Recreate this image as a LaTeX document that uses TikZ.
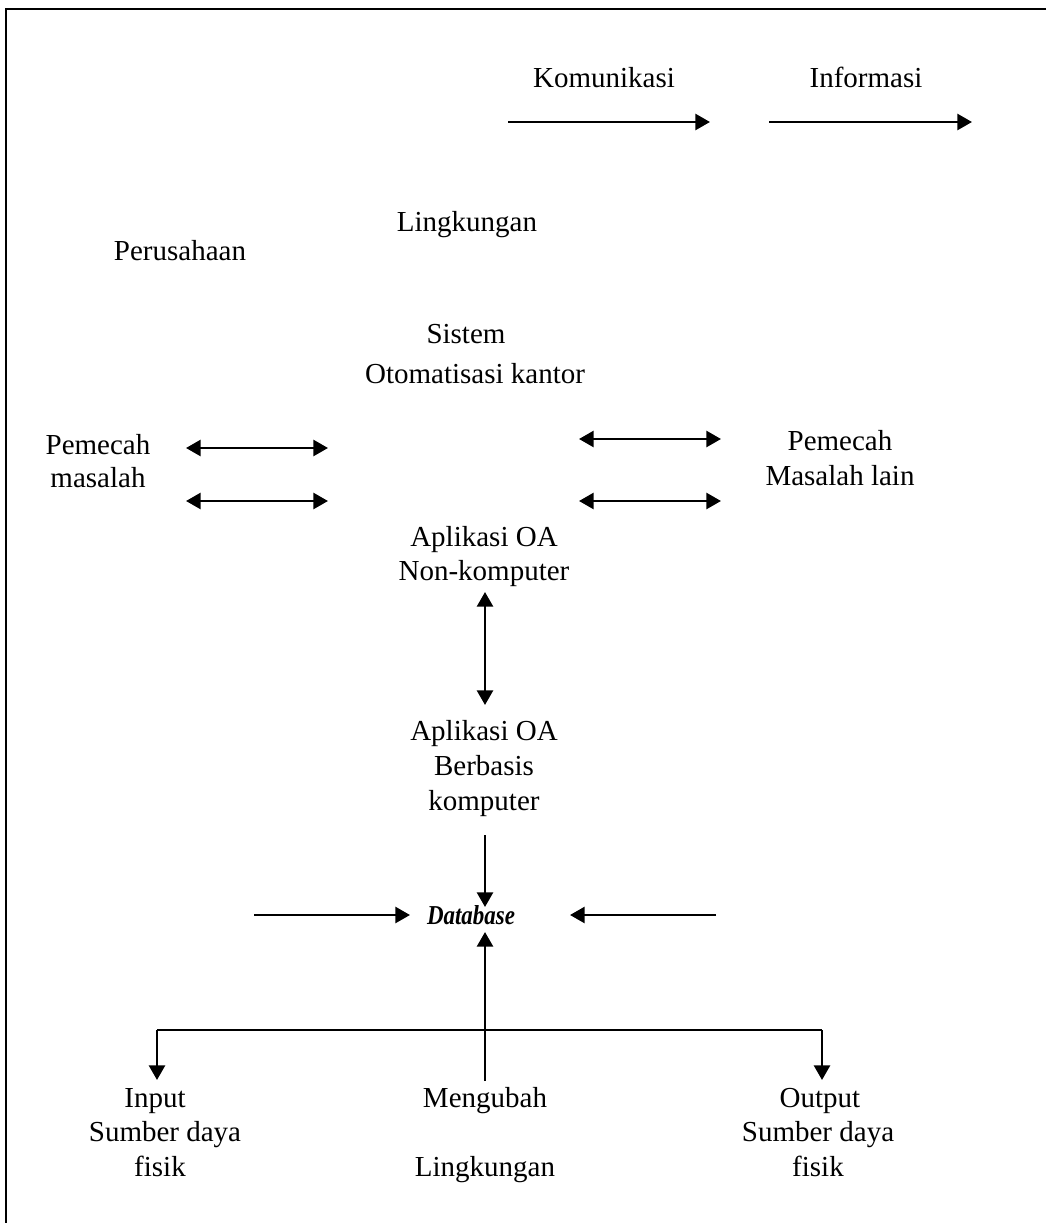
\documentclass[tikz,border=0pt]{standalone}
\usepackage{fontspec}
\setmainfont{Liberation Serif}
\usetikzlibrary{arrows.meta}
\begin{document}
\begin{tikzpicture}[x=0.75pt,y=-0.75pt,
  lbl/.style={inner sep=0pt, anchor=base, font=\fontsize{21.75pt}{26pt}\selectfont},
  tip/.tip={Triangle[length=11pt,width=12pt]},
  arr/.style={line width=2pt, -tip},
  darr/.style={line width=2pt, tip-tip},
  plain/.style={line width=2pt},
  frame/.style={line width=1.8pt}]
\useasboundingbox (0,0) rectangle (1046,1223);
% frame
\coordinate (fTL) at (6,9);
\coordinate (fTR) at (1046,9);
\coordinate (fBL) at (6,1223);
\draw[frame] (fTR) -- (fTL) -- (fBL);
% labels
\node[lbl] (kom) at (604,88) {Komunikasi};
\node[lbl] (inf) at (866,88) {Informasi};
\node[lbl] (ling) at (467,232) {Lingkungan};
\node[lbl] (per) at (180,260) {Perusahaan};
\node[lbl] (sis1) at (466,343) {Sistem};
\node[lbl] (sis2) at (475,383) {Otomatisasi kantor};
\node[lbl] (pl1) at (98,454) {Pemecah};
\node[lbl] (pl2) at (98,487) {masalah};
\node[lbl] (pr1) at (840,450) {Pemecah};
\node[lbl] (pr2) at (840,485) {Masalah lain};
\node[lbl] (nk1) at (484,546) {Aplikasi OA};
\node[lbl] (nk2) at (484,580) {Non-komputer};
\node[lbl] (bk1) at (484,740) {Aplikasi OA};
\node[lbl] (bk2) at (484,775) {Berbasis};
\node[lbl] (bk3) at (484,810) {komputer};
\node[lbl, font=\fontsize{20.5pt}{24pt}\selectfont\bfseries\itshape] (db) at (471,924) {\scalebox{0.84}[1]{Database}};
\node[lbl] (in1) at (155,1107) {Input};
\node[lbl] (in2) at (165,1141) {Sumber daya};
\node[lbl] (in3) at (160,1176) {fisik};
\node[lbl] (mu1) at (485,1107) {Mengubah};
\node[lbl] (mu2) at (485,1176) {Lingkungan};
\node[lbl] (ou1) at (820,1107) {Output};
\node[lbl] (ou2) at (818,1141) {Sumber daya};
\node[lbl] (ou3) at (818,1176) {fisik};
% arrow end points
\coordinate (k1) at (508,122); \coordinate (k2) at (710,122);
\coordinate (i1) at (769,122); \coordinate (i2) at (972,122);
\coordinate (la1) at (186,448); \coordinate (la2) at (328,448);
\coordinate (lb1) at (186,501); \coordinate (lb2) at (328,501);
\coordinate (ra1) at (579,439); \coordinate (ra2) at (721,439);
\coordinate (rb1) at (579,501); \coordinate (rb2) at (721,501);
\coordinate (v1) at (485,592); \coordinate (v2) at (485,705);
\coordinate (d1) at (485,835); \coordinate (d2) at (485,907);
\coordinate (dl1) at (254,915); \coordinate (dl2) at (410,915);
\coordinate (dr1) at (716,915); \coordinate (dr2) at (570,915);
\coordinate (u1) at (485,1081); \coordinate (u2) at (485,932);
\coordinate (hL) at (157,1030); \coordinate (hR) at (822,1030);
\coordinate (hLb) at (157,1080); \coordinate (hRb) at (822,1080);
% arrows
\draw[arr] (k1) -- (k2);
\draw[arr] (i1) -- (i2);
\draw[darr] (la1) -- (la2);
\draw[darr] (lb1) -- (lb2);
\draw[darr] (ra1) -- (ra2);
\draw[darr] (rb1) -- (rb2);
\draw[darr] (v1) -- (v2);
\draw[arr] (d1) -- (d2);
\draw[arr] (dl1) -- (dl2);
\draw[arr] (dr1) -- (dr2);
\draw[arr] (u1) -- (u2);
\draw[plain] (hL) -- (hR);
\draw[arr] (hL) -- (hLb);
\draw[arr] (hR) -- (hRb);
\end{tikzpicture}
\end{document}
